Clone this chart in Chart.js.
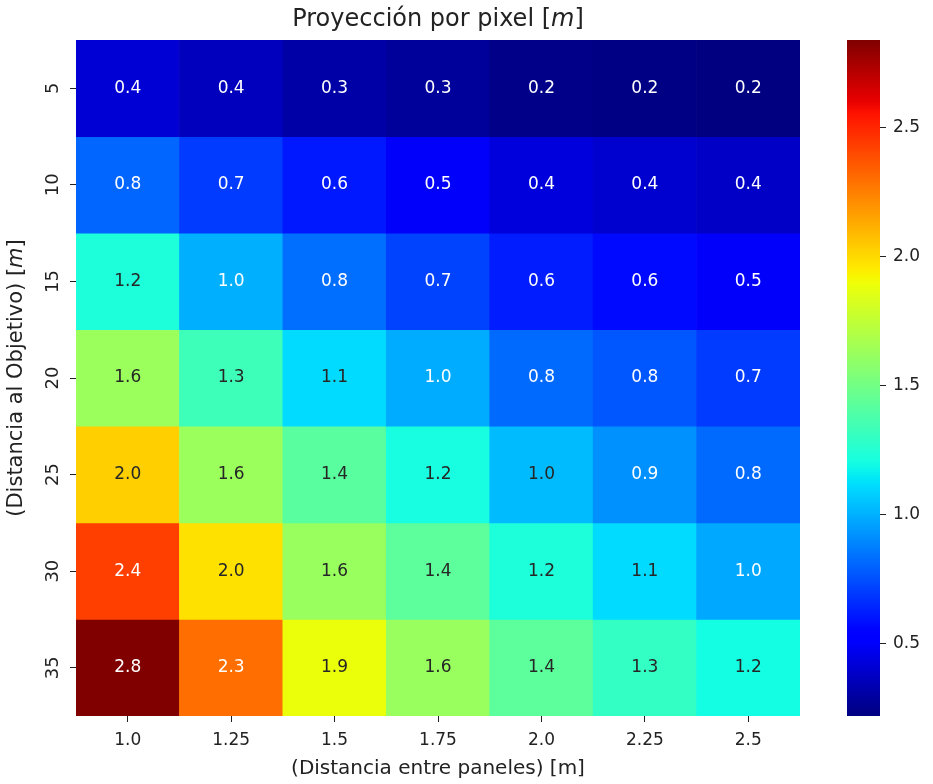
<!DOCTYPE html>
<html>
<head>
<meta charset="utf-8">
<script src="https://cdn.jsdelivr.net/npm/chart.js@4"></script>
<style>
  body { margin: 0; background: #fff; }
  #wrap { position: relative; width: 933px; height: 784px; }
  canvas { position: absolute; top: 0; }
</style>
</head>
<body>
<div id="wrap">
  <canvas id="heat" width="876" height="784" style="left:0"></canvas>
  <canvas id="cbar" width="113" height="784" style="left:820px"></canvas>
</div>
<script>
// ---- datos ----
const distancias = ['5', '10', '15', '20', '25', '30', '35'];      // filas [m]
const paneles = ['1.0', '1.25', '1.5', '1.75', '2.0', '2.25', '2.5']; // columnas [m]
const fila5  = [0.41, 0.36, 0.31, 0.28, 0.24, 0.23, 0.22];
const fila10 = [0.81, 0.70, 0.61, 0.50, 0.43, 0.40, 0.38];
const fila15 = [1.23, 1.00, 0.83, 0.72, 0.62, 0.57, 0.50];
const fila20 = [1.63, 1.33, 1.11, 0.99, 0.82, 0.77, 0.70];
const fila25 = [2.03, 1.63, 1.42, 1.21, 1.03, 0.92, 0.82];
const fila30 = [2.43, 1.98, 1.62, 1.43, 1.23, 1.11, 0.98];
const fila35 = [2.84, 2.30, 1.89, 1.62, 1.43, 1.30, 1.20];
const filas = [fila5, fila10, fila15, fila20, fila25, fila30, fila35];
const ticksBarra = [0.5, 1.0, 1.5, 2.0, 2.5];

const FONT = "'DejaVu Sans', sans-serif";
const INK = '#222';
const vmin = Math.min(...filas.flat());
const vmax = Math.max(...filas.flat());

// colormap jet de matplotlib
const JET = {
  r: [[0, 0], [0.35, 0], [0.66, 1], [0.89, 1], [1, 0.5]],
  g: [[0, 0], [0.125, 0], [0.375, 1], [0.64, 1], [0.91, 0], [1, 0]],
  b: [[0, 0.5], [0.11, 1], [0.34, 1], [0.65, 0], [1, 0]]
};
function interp(seg, t) {
  for (let k = 1; k < seg.length; k++) {
    if (t <= seg[k][0]) {
      const [x0, y0] = seg[k - 1], [x1, y1] = seg[k];
      return y0 + (y1 - y0) * (t - x0) / (x1 - x0);
    }
  }
  return seg[seg.length - 1][1];
}
function jet(t) {
  t = Math.max(0, Math.min(1, t));
  return [interp(JET.r, t), interp(JET.g, t), interp(JET.b, t)].map(c => Math.round(c * 255));
}
const rgb = c => `rgb(${c[0]},${c[1]},${c[2]})`;
const colorDe = v => jet((v - vmin) / (vmax - vmin));

// misma regla que seaborn: texto oscuro sobre celdas claras
function textoDe(c) {
  const lin = c.map(x => { x /= 255; return x <= 0.03928 ? x / 12.92 : Math.pow((x + 0.055) / 1.055, 2.4); });
  const lum = 0.2126 * lin[0] + 0.7152 * lin[1] + 0.0722 * lin[2];
  return lum > 0.408 ? '#262626' : '#ffffff';
}

// texto con tramos de distinta fuente (para la m en cursiva)
function tramos(ctx, partes, cx, cy, rot) {
  ctx.save();
  ctx.translate(cx, cy);
  ctx.rotate(rot);
  ctx.textAlign = 'left';
  ctx.textBaseline = 'middle';
  ctx.fillStyle = INK;
  let total = 0;
  partes.forEach(p => { ctx.font = p.f; p.w = ctx.measureText(p.t).width; total += p.w; });
  let x = -total / 2;
  partes.forEach(p => { ctx.font = p.f; ctx.fillText(p.t, x, 0); x += p.w; });
  ctx.restore();
}

const textos = {
  id: 'textos',
  afterDatasetsDraw(chart) {
    const ctx = chart.ctx;
    ctx.save();
    ctx.font = `17px ${FONT}`;
    ctx.textAlign = 'center';
    ctx.textBaseline = 'middle';
    chart.data.datasets.forEach((ds, i) => {
      chart.getDatasetMeta(i).data.forEach((bar, j) => {
        const v = filas[i][j];
        ctx.fillStyle = textoDe(colorDe(v));
        ctx.fillText(v.toFixed(1), bar.x, (bar.y + bar.base) / 2);
      });
    });
    ctx.restore();
  },
  afterDraw(chart) {
    const ctx = chart.ctx, a = chart.chartArea, ys = chart.scales.y;
    // etiquetas del eje y, giradas
    ctx.save();
    ctx.font = `18px ${FONT}`;
    ctx.fillStyle = INK;
    ctx.textAlign = 'center';
    ctx.textBaseline = 'middle';
    distancias.forEach((d, i) => {
      ctx.save();
      ctx.translate(53, ys.getPixelForValue(i + 0.5));
      ctx.rotate(-Math.PI / 2);
      ctx.fillText(d, 0, 0);
      ctx.restore();
    });
    ctx.restore();
    const cx = (a.left + a.right) / 2, cy = (a.top + a.bottom) / 2;
    tramos(ctx, [
      { t: 'Proyección por pixel [', f: `24px ${FONT}` },
      { t: 'm', f: `oblique 24px ${FONT}` },
      { t: ']', f: `24px ${FONT}` }
    ], cx, 20, 0);
    tramos(ctx, [
      { t: '(Distancia al Objetivo) [', f: `21px ${FONT}` },
      { t: 'm', f: `oblique 21px ${FONT}` },
      { t: ']', f: `21px ${FONT}` }
    ], 17, cy, -Math.PI / 2);
  }
};

new Chart(document.getElementById('heat'), {
  type: 'bar',
  data: {
    labels: paneles,
    datasets: filas.map((f, i) => ({
      label: distancias[i],
      data: f.map(() => [i, i + 1]),
      backgroundColor: f.map(v => rgb(colorDe(v))),
      borderWidth: 0,
      barPercentage: 1,
      categoryPercentage: 1,
      grouped: false
    }))
  },
  options: {
    responsive: false,
    animation: false,
    layout: { padding: { top: 40, right: 76, left: 0, bottom: 0 } },
    plugins: { legend: { display: false }, tooltip: { enabled: false } },
    scales: {
      x: {
        type: 'category',
        grid: { drawOnChartArea: false, offset: false, tickLength: 6, tickColor: INK },
        border: { display: false },
        ticks: { font: { family: FONT, size: 17 }, color: INK, padding: 8, maxRotation: 0 },
        title: { display: true, text: '(Distancia entre paneles) [m]', font: { family: FONT, size: 20 }, color: INK, padding: { top: 0, bottom: 3 } },
        afterFit: s => { s.height = 68; }
      },
      y: {
        type: 'linear', min: 0, max: 7, reverse: true,
        afterBuildTicks: s => { s.ticks = distancias.map((d, i) => ({ value: i + 0.5 })); },
        ticks: { display: false },
        grid: { drawOnChartArea: false, tickLength: 6, tickColor: INK },
        border: { display: false },
        afterFit: s => { s.width = 76; }
      }
    }
  },
  plugins: [textos]
});

// barra de color
function degradado(chart) {
  const a = chart.chartArea;
  if (!a) return null;
  const ys = chart.scales.y;
  const g = chart.ctx.createLinearGradient(0, ys.getPixelForValue(vmin), 0, ys.getPixelForValue(vmax));
  for (let k = 0; k <= 100; k++) g.addColorStop(k / 100, rgb(jet(k / 100)));
  return g;
}

new Chart(document.getElementById('cbar'), {
  type: 'bar',
  data: {
    labels: [''],
    datasets: [{
      data: [[vmin, vmax]],
      backgroundColor: c => degradado(c.chart),
      borderWidth: 0,
      barPercentage: 1,
      categoryPercentage: 1
    }]
  },
  options: {
    responsive: false,
    animation: false,
    layout: { padding: { left: 27, top: 40, bottom: 68, right: 0 } },
    plugins: { legend: { display: false }, tooltip: { enabled: false } },
    scales: {
      x: { display: false },
      y: {
        position: 'right', min: vmin, max: vmax,
        afterBuildTicks: s => { s.ticks = ticksBarra.map(v => ({ value: v })); },
        ticks: { font: { family: FONT, size: 17 }, color: INK, padding: 7, callback: v => Number(v).toFixed(1) },
        grid: { drawOnChartArea: false, tickLength: 6, tickColor: INK },
        border: { display: false },
        afterFit: s => { s.width = 53; }
      }
    }
  }
});
</script>
</body>
</html>
